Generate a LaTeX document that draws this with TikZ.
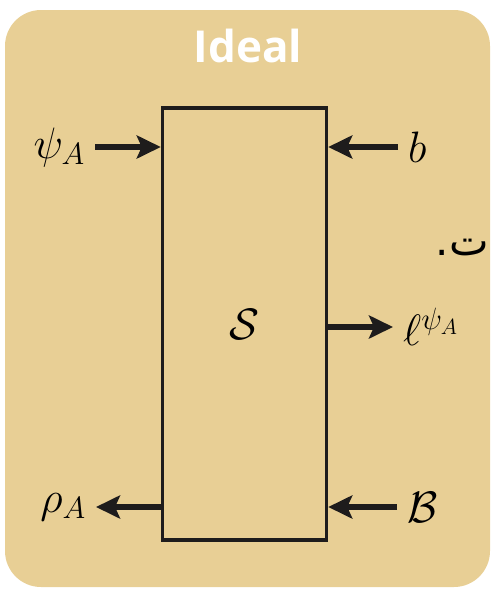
\RequirePackage{fix-cm}
\documentclass[tikz,border=0pt]{standalone}
\usepackage{fontspec}
\usepackage{amsmath,amssymb}
\usepackage{xcolor}
\usetikzlibrary{arrows.meta,positioning}
\TeXXeTstate=1
\newfontfamily\titlefont{Open Sans}
\newfontfamily\arabicfont[Script=Arabic]{DejaVu Sans}
\definecolor{fondo}{RGB}{232,207,149}
\definecolor{trazo}{RGB}{30,28,28}

\begin{document}
\begin{tikzpicture}[x=1pt, y=-1pt, >={Stealth[length=24pt,width=23pt,inset=5pt]}]

    % Estilos
    \tikzstyle{caja}=[rectangle, draw=trazo, line width=3.5pt, minimum width=164pt, minimum height=432pt, inner sep=0pt]
    \tikzstyle{etiq}=[inner xsep=10pt, inner ysep=0pt, font=\fontsize{44}{52}\selectfont]
    \tikzstyle{flecha}=[->, draw=trazo, line width=6pt]

    % Fondo y titulo
    \useasboundingbox (0,0) rectangle (492,590);
    \fill[fondo, rounded corners=36pt] (5,10) rectangle (490,587);
    \node[text=white, font=\titlefont\bfseries\fontsize{44}{50}\selectfont] (titulo) at (248,46) {Ideal};

    % Sistema
    \node[caja, font=\fontsize{44}{52}\selectfont] (S) at (244.5,324) {$\mathcal{S}$};

    % Etiquetas de entrada y salida
    \node[etiq, anchor=east] (psi) at (95,147) {$\psi_A$};
    \node[etiq, anchor=west] (b) at (398,147) {$b$};
    \node[etiq, anchor=west] (ell) at (393,327) {$\ell^{\psi_A}$};
    \node[etiq, anchor=east] (rho) at (96,507) {$\rho_A$};
    \node[etiq, anchor=west] (B) at (397,507) {$\mathcal{B}$};
    \node[anchor=base east, inner sep=0pt, font=\arabicfont\fontsize{42}{46}\selectfont] (arab) at (489,255) {\beginR ت.\endR};

    % Flechas
    \draw[flecha] (psi) -- (psi -| S.west);
    \draw[flecha] (b) -- (b -| S.east);
    \draw[flecha] (ell -| S.east) -- (ell);
    \draw[flecha] (rho -| S.west) -- (rho);
    \draw[flecha] (B) -- (B -| S.east);
\end{tikzpicture}
\end{document}
